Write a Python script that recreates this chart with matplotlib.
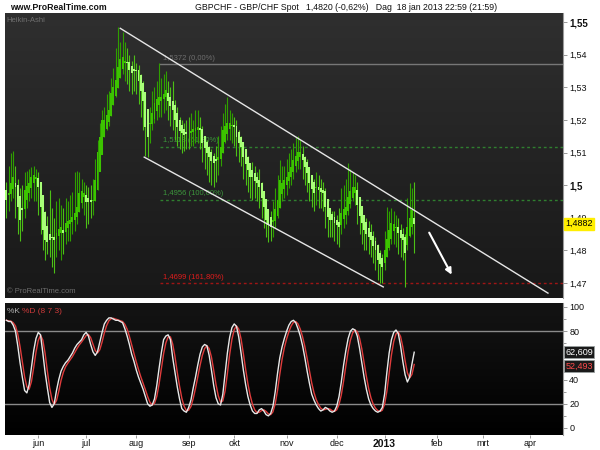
import numpy as np
import pandas as pd
import matplotlib
matplotlib.use('Agg')
import matplotlib.pyplot as plt
import matplotlib.transforms as mtransforms
from matplotlib.ticker import FixedLocator, NullFormatter

plt.rcParams['font.family'] = ['Liberation Sans', 'DejaVu Sans']

# ---------------- data ----------------
start_date = '2012-05-14'
axis_end_date = '2013-04-30'
first_open = 1.4985

ha_close = [
    1.4954, 1.4975, 1.5005, 1.5025, 1.4994, 1.4933, 1.4893, 1.4924, 1.4985, 1.4998,
    1.5006, 1.5025, 1.5030, 1.5025, 1.4994, 1.4933, 1.4862, 1.4832, 1.4825, 1.4832,
    1.4840, 1.4832, 1.4853, 1.4865, 1.4870, 1.4853, 1.4884, 1.4890, 1.4893, 1.4902,
    1.4915, 1.4933, 1.4976, 1.4980, 1.4976, 1.4948, 1.4948, 1.4950, 1.4954, 1.5016,
    1.5100, 1.5147, 1.5200, 1.5200, 1.5215, 1.5230, 1.5282, 1.5300, 1.5322, 1.5362,
    1.5385, 1.5393, 1.5380, 1.5374, 1.5355, 1.5344, 1.5350, 1.5350, 1.5320, 1.5290,
    1.5260, 1.5178, 1.5147, 1.5190, 1.5220, 1.5252, 1.5262, 1.5270, 1.5270, 1.5280,
    1.5292, 1.5260, 1.5245, 1.5230, 1.5200, 1.5178, 1.5168, 1.5160, 1.5155, 1.5158,
    1.5160, 1.5165, 1.5170, 1.5175, 1.5178, 1.5170, 1.5130, 1.5115, 1.5100, 1.5086,
    1.5075, 1.5068, 1.5075, 1.5086, 1.5117, 1.5169, 1.5180, 1.5190, 1.5190, 1.5185,
    1.5178, 1.5147, 1.5130, 1.5117, 1.5086, 1.5065, 1.5046, 1.5025, 1.5025, 1.5015,
    1.5006, 1.4994, 1.4960, 1.4933, 1.4893, 1.4880, 1.4872, 1.4893, 1.4925, 1.4954,
    1.5016, 1.5006, 1.5015, 1.5025, 1.5040, 1.5056, 1.5077, 1.5090, 1.5100, 1.5100,
    1.5077, 1.5055, 1.5037, 1.5006, 1.4990, 1.4976, 1.4994, 1.4985, 1.4980, 1.4976,
    1.4933, 1.4902, 1.4895, 1.4893, 1.4884, 1.4878, 1.4872, 1.4914, 1.4925, 1.4933,
    1.4963, 1.4980, 1.4994, 1.4994, 1.4940, 1.4905, 1.4884, 1.4862, 1.4850, 1.4841,
    1.4832, 1.4815, 1.4801, 1.4770, 1.4758, 1.4749, 1.4801, 1.4835, 1.4862, 1.4884,
    1.4880, 1.4872, 1.4853, 1.4840, 1.4832, 1.4792, 1.4872, 1.4900, 1.4924, 1.4882,
]

ha_high = [
    1.5010, 1.5060, 1.5100, 1.5105, 1.5060, 1.5020, 1.4990, 1.5000, 1.5040, 1.5045,
    1.5050, 1.5056, 1.5060, 1.5050, 1.5040, 1.5010, 1.4960, 1.4920, 1.4905, 1.4985,
    1.4930, 1.4900, 1.4950, 1.4960, 1.4940, 1.4930, 1.4960, 1.4950, 1.4970, 1.4980,
    1.5040, 1.5045, 1.5040, 1.5020, 1.5010, 1.5000, 1.4995, 1.5000, 1.5020, 1.5080,
    1.5140, 1.5190, 1.5230, 1.5240, 1.5280, 1.5290, 1.5330, 1.5360, 1.5420, 1.5485,
    1.5440, 1.5470, 1.5440, 1.5420, 1.5400, 1.5380, 1.5400, 1.5374, 1.5370, 1.5340,
    1.5320, 1.5260, 1.5200, 1.5240, 1.5290, 1.5300, 1.5320, 1.5374, 1.5330, 1.5340,
    1.5350, 1.5320, 1.5300, 1.5320, 1.5260, 1.5240, 1.5210, 1.5200, 1.5190, 1.5200,
    1.5210, 1.5220, 1.5200, 1.5230, 1.5230, 1.5210, 1.5180, 1.5150, 1.5140, 1.5120,
    1.5110, 1.5100, 1.5120, 1.5150, 1.5180, 1.5220, 1.5250, 1.5270, 1.5230, 1.5220,
    1.5210, 1.5200, 1.5170, 1.5150, 1.5120, 1.5100, 1.5090, 1.5060, 1.5070, 1.5060,
    1.5040, 1.5050, 1.5010, 1.4980, 1.4940, 1.4920, 1.4920, 1.4950, 1.4990, 1.5030,
    1.5077, 1.5060, 1.5060, 1.5080, 1.5100, 1.5110, 1.5130, 1.5147, 1.5150, 1.5140,
    1.5120, 1.5090, 1.5080, 1.5040, 1.5030, 1.5020, 1.5040, 1.5030, 1.5020, 1.5010,
    1.4990, 1.4950, 1.4930, 1.4920, 1.4920, 1.4910, 1.4930, 1.4990, 1.5000, 1.5020,
    1.5068, 1.5050, 1.5040, 1.5030, 1.5010, 1.4960, 1.4930, 1.4910, 1.4900, 1.4890,
    1.4880, 1.4860, 1.4840, 1.4820, 1.4800, 1.4790, 1.4860, 1.4933, 1.4920, 1.4930,
    1.4920, 1.4910, 1.4900, 1.4880, 1.4870, 1.4850, 1.4960, 1.5006, 1.4990, 1.5010,
]

ha_low = [
    1.4900, 1.4920, 1.4950, 1.4960, 1.4900, 1.4850, 1.4830, 1.4860, 1.4900, 1.4930,
    1.4950, 1.4960, 1.4950, 1.4950, 1.4910, 1.4850, 1.4800, 1.4770, 1.4790, 1.4780,
    1.4750, 1.4730, 1.4780, 1.4800, 1.4770, 1.4790, 1.4820, 1.4830, 1.4830, 1.4850,
    1.4860, 1.4880, 1.4920, 1.4930, 1.4910, 1.4870, 1.4880, 1.4900, 1.4910, 1.4960,
    1.5040, 1.5090, 1.5140, 1.5150, 1.5170, 1.5180, 1.5220, 1.5250, 1.5270, 1.5310,
    1.5330, 1.5340, 1.5320, 1.5310, 1.5290, 1.5280, 1.5290, 1.5280, 1.5250, 1.5210,
    1.5170, 1.5090, 1.5086, 1.5130, 1.5170, 1.5190, 1.5200, 1.5210, 1.5210, 1.5220,
    1.5230, 1.5200, 1.5180, 1.5170, 1.5140, 1.5120, 1.5110, 1.5100, 1.5105, 1.5110,
    1.5110, 1.5120, 1.5120, 1.5130, 1.5130, 1.5110, 1.5070, 1.5050, 1.5030, 1.5010,
    1.5000, 1.4994, 1.5010, 1.5030, 1.5060, 1.5110, 1.5130, 1.5140, 1.5140, 1.5130,
    1.5120, 1.5090, 1.5070, 1.5060, 1.5020, 1.5000, 1.4980, 1.4960, 1.4954, 1.4960,
    1.4950, 1.4930, 1.4900, 1.4870, 1.4840, 1.4826, 1.4830, 1.4840, 1.4870, 1.4900,
    1.4960, 1.4950, 1.4960, 1.4970, 1.4990, 1.5000, 1.5020, 1.5040, 1.5050, 1.5050,
    1.5020, 1.5000, 1.4980, 1.4950, 1.4933, 1.4920, 1.4940, 1.4930, 1.4930, 1.4920,
    1.4870, 1.4840, 1.4840, 1.4840, 1.4830, 1.4820, 1.4810, 1.4850, 1.4870, 1.4880,
    1.4910, 1.4930, 1.4950, 1.4940, 1.4880, 1.4850, 1.4820, 1.4800, 1.4800, 1.4790,
    1.4780, 1.4760, 1.4740, 1.4710, 1.4700, 1.4700, 1.4740, 1.4780, 1.4800, 1.4820,
    1.4820, 1.4810, 1.4790, 1.4780, 1.4770, 1.4688, 1.4800, 1.4840, 1.4850, 1.4792,
]

stoch_k = [
    89, 88, 88, 85, 80, 68, 54, 42, 31, 29,
    36, 50, 64, 74, 79, 77, 62, 46, 33, 21,
    17, 20, 31, 40, 47, 51, 54, 56, 59, 62,
    66, 69, 71, 73, 77, 79, 76, 69, 63, 60,
    63, 71, 79, 86, 89, 91, 91, 90, 89, 89,
    88, 87, 82, 76, 69, 61, 55, 48, 42, 37,
    32, 26, 20, 18, 19, 24, 35, 49, 62, 73,
    76, 77, 73, 58, 46, 34, 24, 16, 14, 13,
    17, 23, 33, 42, 52, 61, 67, 69, 68, 60,
    48, 35, 25, 20, 19, 28, 45, 62, 75, 83,
    86, 84, 75, 62, 48, 36, 26, 19, 14, 12,
    12, 15, 16, 14, 11, 10, 12, 18, 30, 45,
    58, 67, 74, 80, 85, 88, 89, 87, 82, 76,
    68, 58, 47, 37, 28, 23, 19, 16, 14, 15,
    17, 16, 14, 13, 14, 18, 26, 38, 52, 64,
    74, 80, 82, 81, 76, 66, 54, 42, 32, 24,
    19, 16, 14, 13, 14, 17, 28, 46, 62, 73,
    79, 81, 78, 68, 55, 44, 38, 42.0, 52.87, 62.609,
]

fib_levels = [1.5372, 1.5118, 1.4956, 1.4699]
fib_labels = ['1,5372 (0,00%)', '1,5118 (61,80%)', '1,4956 (100,00%)', '1,4699 (161,80%)']
fib_line_colors = ['#777777', '#2f7f2f', '#2f7f2f', '#a01515']
fib_text_colors = ['#6e6e6e', '#3c963c', '#3c963c', '#e01c1c']
fib_styles = ['-', (0, (2, 2)), (0, (2, 2)), (0, (2, 2))]
fib_start = 67.5

# channel lines (bar index, price) and forecast arrow
channel_top = [(50.0, 1.5481), (237.7, 1.4669)]
channel_bottom = [(60.5, 1.5086), (165.4, 1.4688)]
arrow_from = (185.0, 1.4862)
arrow_to = (196.0, 1.4718)

month_starts = ['2012-06-01', '2012-07-01', '2012-08-01', '2012-09-01', '2012-10-01',
                '2012-11-01', '2012-12-01', '2013-01-01', '2013-02-01', '2013-03-01',
                '2013-04-01']
month_labels = ['jun', 'jul', 'aug', 'sep', 'okt', 'nov', 'dec', '2013', 'feb', 'mrt', 'apr']

price_ticks = [1.47, 1.48, 1.49, 1.50, 1.51, 1.52, 1.53, 1.54, 1.55]
price_tick_labels = ['1,47', '1,48', '1,49', '1,5', '1,51', '1,52', '1,53', '1,54', '1,55']
stoch_ticks = [0, 20, 40, 60, 80, 100]
stoch_tick_labels = ['0', '20', '40', '', '80', '100']
stoch_levels = [20, 80]

header_left = 'www.ProRealTime.com'
header_title = 'GBPCHF - GBP/CHF Spot   1,4820 (-0,62%)   Dag  18 jan 2013 22:59 (21:59)'

# ---------------- computations ----------------
n = len(ha_close)
idx = np.arange(n)
c = np.array(ha_close)
h = np.array(ha_high)
l = np.array(ha_low)
o = np.empty(n)
o[0] = first_open
for i in range(1, n):
    o[i] = (o[i - 1] + c[i - 1]) / 2.0
hi = np.maximum(h, np.maximum(o, c))
lo = np.minimum(l, np.minimum(o, c))
k = pd.Series(stoch_k, dtype=float)
d = k.rolling(3, min_periods=1).mean()

axis_dates = pd.bdate_range(start_date, axis_end_date)
month_pos = [int(np.searchsorted(axis_dates.values, np.datetime64(m))) for m in month_starts]

# ---------------- figure ----------------
fig = plt.figure(figsize=(6, 4.5), dpi=100, facecolor='white')
W, H = 600.0, 450.0
ax = fig.add_axes([5 / W, 1 - 298 / H, (563 - 5) / W, (298 - 13) / H])
ax2 = fig.add_axes([5 / W, 1 - 435 / H, (563 - 5) / W, (435 - 303) / H], sharex=ax)

def gradient(a, top, bottom):
    g = np.linspace(0, 1, 256).reshape(-1, 1)
    t = np.array(matplotlib.colors.to_rgb(top))
    b = np.array(matplotlib.colors.to_rgb(bottom))
    img = t[None, None, :] * (1 - g[:, :, None]) + b[None, None, :] * g[:, :, None]
    a.imshow(img, extent=[0, 1, 0, 1], transform=a.transAxes, aspect='auto',
             zorder=0, interpolation='bilinear')

gradient(ax, '#2f2f2f', '#181818')
gradient(ax2, '#141414', '#000000')

xmin, xmax = -0.6, 244.3
ax.set_xlim(xmin, xmax)
ax.set_ylim(1.4654, 1.5528)
ax2.set_ylim(-5.8, 103.3)

# fib lines
for lev, lab, lc, tc, ls in zip(fib_levels, fib_labels, fib_line_colors, fib_text_colors, fib_styles):
    ax.plot([fib_start, xmax], [lev, lev], color=lc, lw=1.0, linestyle=ls, zorder=2)
    ax.text(fib_start + 1.2, lev + 0.0007, lab, color=tc, fontsize=5.5, zorder=3,
            va='bottom', ha='left')

# candles
up = c >= o
wick_col = np.where(up, '#2f9f00', '#4cc016')
body_col = np.where(up, '#3cc400', '#a8ff78')
ax.vlines(idx, lo, hi, colors=wick_col, lw=0.8, zorder=4)
ax.bar(idx, np.abs(c - o) + 0.00015, bottom=np.minimum(o, c) - 0.000075, width=0.85,
       color=body_col, linewidth=0, zorder=5)

# channel and arrow
ax.plot([p[0] for p in channel_top], [p[1] for p in channel_top], color='#e6e6e6', lw=1.0, zorder=6)
ax.plot([p[0] for p in channel_bottom], [p[1] for p in channel_bottom], color='#e6e6e6', lw=1.0, zorder=6)
ax.annotate('', xy=arrow_to, xytext=arrow_from,
            arrowprops=dict(arrowstyle='-|>', color='white', lw=1.5, mutation_scale=9), zorder=7)

ax.text(0.003, 0.985, 'Heikin-Ashi', transform=ax.transAxes, color='#6e6e6e', fontsize=5.5,
        va='top', ha='left')
ax.text(0.003, 0.012, '\u00a9 ProRealTime.com', transform=ax.transAxes, color='#6e6e6e',
        fontsize=5.5, va='bottom', ha='left')

# stochastic
for lv in stoch_levels:
    ax2.axhline(lv, color='#8a8a8a', lw=1.0, zorder=2)
ax2.plot(idx, d, color='#e03c3c', lw=1.0, zorder=3)
ax2.plot(idx, k, color='#e8e8e8', lw=1.0, zorder=4)
t1 = ax2.text(0.003, 0.965, '%K ', transform=ax2.transAxes, color='#b0b0b0', fontsize=6,
              va='top', ha='left')
fig.canvas.draw()
bb = t1.get_window_extent().transformed(ax2.transAxes.inverted())
ax2.text(bb.x1, 0.965, '%D (8 7 3)', transform=ax2.transAxes, color='#cc3a3a', fontsize=6,
         va='top', ha='left')

# axes styling
for a in (ax, ax2):
    for s in ('top', 'left', 'bottom'):
        a.spines[s].set_visible(False)
    a.spines['right'].set_color('#9a9a9a')
    a.spines['right'].set_linewidth(0.8)
    a.yaxis.tick_right()
    a.tick_params(axis='y', direction='out', length=3, width=0.6, color='#888888',
                  labelsize=6.5, pad=1.5, labelcolor='#111111')

ax.yaxis.set_major_locator(FixedLocator(price_ticks))
ax.set_yticklabels(price_tick_labels)
for t, v in zip(ax.get_yticklabels(), price_ticks):
    if abs(v - 1.55) < 1e-9 or abs(v - 1.50) < 1e-9:
        t.set_fontweight('bold')
        t.set_fontsize(7)
ax.tick_params(axis='x', which='both', bottom=False, labelbottom=False)

ax2.yaxis.set_major_locator(FixedLocator(stoch_ticks))
ax2.yaxis.set_minor_locator(FixedLocator([10, 30, 50, 70, 90]))
ax2.set_yticklabels(stoch_tick_labels)
ax2.tick_params(axis='y', which='minor', direction='out', length=2, width=0.6, color='#888888')
ax2.xaxis.set_major_locator(FixedLocator(month_pos))
ax2.set_xticklabels(month_labels)
ax2.tick_params(axis='x', direction='out', length=2, width=0.6, color='#888888',
                labelsize=6.5, pad=1, labelcolor='#111111')
for t, lab in zip(ax2.get_xticklabels(), month_labels):
    if lab == '2013':
        t.set_fontweight('bold')
        t.set_fontsize(7.5)

# value tags
tr = mtransforms.blended_transform_factory(ax.transAxes, ax.transData)
ax.text(1.004, c[-1], ('%.4f' % c[-1]).replace('.', ','), transform=tr, fontsize=6.5,
        color='black', va='center', ha='left', zorder=10,
        bbox=dict(boxstyle='square,pad=0.15', facecolor='#ffee00', edgecolor='#ffee00'))
tr2 = mtransforms.blended_transform_factory(ax2.transAxes, ax2.transData)
ax2.text(1.004, k.iloc[-1], ('%.3f' % k.iloc[-1]).replace('.', ','), transform=tr2,
         fontsize=6.5, color='white', va='center', ha='left', zorder=10,
         bbox=dict(boxstyle='square,pad=0.15', facecolor='#1a1a1a', edgecolor='#9aa0a0', lw=0.6))
ax2.text(1.004, d.iloc[-1] - 1.5, ('%.3f' % d.iloc[-1]).replace('.', ','), transform=tr2,
         fontsize=6.5, color='#ff4a4a', va='center', ha='left', zorder=10,
         bbox=dict(boxstyle='square,pad=0.15', facecolor='#1a1a1a', edgecolor='#9aa0a0', lw=0.6))

# header
fig.text(10 / W, 1 - 7 / H, header_left, fontsize=6.3, fontweight='bold', color='#111111',
         va='center', ha='left')
fig.text(195 / W, 1 - 7 / H, header_title, fontsize=6.3, color='#111111', va='center', ha='left')

fig.savefig('out.png', dpi=100, facecolor='white')
